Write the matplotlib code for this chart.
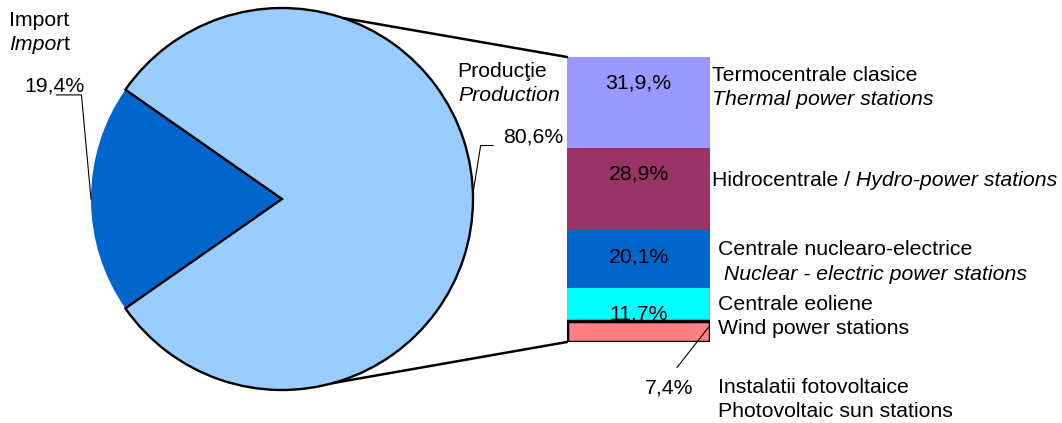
import numpy as np
import matplotlib
matplotlib.use("Agg")
import matplotlib.pyplot as plt
from matplotlib.patches import ConnectionPatch

# pie: import vs production
pie_names = ["Import", "Productie"]
pie_shares = [19.4, 80.6]
pie_colors = ["#0066CC", "#99CCFF"]

# bar: production by source, top to bottom
sources = ["Termocentrale clasice", "Hidrocentrale", "Centrale nuclearo-electrice",
           "Centrale eoliene", "Instalatii fotovoltaice"]
source_shares = [31.9, 28.9, 20.1, 11.7, 7.4]
source_labels = ["31,9,%", "28,9%", "20,1%", "11,7%", "7,4%"]
source_colors = ["#9999FF", "#993366", "#0066CC", "#00FFFF", "#FF8080"]

W, H = 1062, 423
plt.rcParams["font.family"] = ["Liberation Sans", "DejaVu Sans"]
plt.rcParams["font.size"] = 15.3

fig = plt.figure(figsize=(W / 100, H / 100), dpi=100)


def fx(x):
    return x / W


def fy(y):
    return 1 - y / H


def pct(v):
    return ("%.1f%%" % v).replace(".", ",")


# ---- pie
ax_pie = fig.add_axes([fx(91), fy(199 + 191), 382 / W, 382 / H])
start = 180 - pie_shares[0] * 3.6 / 2
wedges, _ = ax_pie.pie(pie_shares, colors=pie_colors, startangle=start, counterclock=True,
                       wedgeprops=dict(linewidth=1.7, edgecolor="black"))
wedges[0].set_linewidth(0)
ax_pie.set_xlim(-1, 1)
ax_pie.set_ylim(-1, 1)
ax_pie.set_aspect("equal")
ax_pie.axis("off")

# leader lines for pie labels (to the middle of each wedge)
mids = []
a = start
for s in pie_shares:
    mids.append(np.deg2rad(a + s * 3.6 / 2))
    a += s * 3.6
p0 = np.array([np.cos(mids[0]), np.sin(mids[0])])
ax_pie.plot([p0[0] - 0.18, p0[0] - 0.05, p0[0]], [p0[1] + 0.545, p0[1] + 0.545, p0[1]],
            color="black", lw=0.8, clip_on=False)
p1 = np.array([np.cos(mids[1]), np.sin(mids[1])])
ax_pie.plot([p1[0] + 0.105, p1[0] + 0.04, p1[0]], [p1[1] + 0.28, p1[1] + 0.28, p1[1] + 0.03],
            color="black", lw=0.8, clip_on=False)

# ---- stacked bar
ax_bar = fig.add_axes([fx(567), fy(342), 143 / W, 285 / H])
bottoms = np.cumsum([0] + source_shares[::-1][:-1])[::-1]
bars = []
for i in range(len(sources)):
    b = ax_bar.bar(0, source_shares[i], bottom=bottoms[i], width=1.0,
                   color=source_colors[i], linewidth=0)
    bars.append(b[0])
bars[-1].set_edgecolor("black")
bars[-1].set_linewidth(2.5)
ax_bar.set_xlim(-0.5, 0.5)
ax_bar.set_ylim(0, 100)
ax_bar.axis("off")

for i in range(len(sources) - 1):
    ax_bar.annotate(source_labels[i], xy=(0, bottoms[i] + source_shares[i]),
                    xytext=(0, -23), textcoords="offset points",
                    ha="center", va="baseline", annotation_clip=False)

ax_bar.annotate(source_labels[-1], xy=(0.49, bottoms[-1] + source_shares[-1] * 0.7),
                xytext=(693, H - 393), textcoords="figure pixels",
                ha="right", va="baseline",
                arrowprops=dict(arrowstyle="-", color="black", lw=0.8,
                                shrinkA=7, shrinkB=0, relpos=(0.5, 1)))

# ---- connecting lines pie -> bar
for ang, corner in [(71.4, (0, 1)), (-74.5, (0, 0))]:
    r = np.deg2rad(ang)
    con = ConnectionPatch(xyA=(np.cos(r), np.sin(r)), coordsA=ax_pie.transData,
                          xyB=corner, coordsB=ax_bar.transAxes,
                          color="black", lw=1.8)
    fig.add_artist(con)


# ---- texts
def mixed(x, y, first, second, style1="normal", style2="italic"):
    t = fig.text(fx(x), fy(y), first, style=style1, va="baseline")
    ax_pie.annotate(second, xy=(1, 0), xycoords=t, style=style2, va="bottom",
                    annotation_clip=False)


fig.text(fx(9), fy(26), "Import", va="baseline")
mixed(9, 50, "Impor", "t", "italic", "normal")
fig.text(fx(54), fy(92), pct(pie_shares[0]), ha="center", va="baseline")
fig.text(fx(457), fy(77), "Producţie", va="baseline")
fig.text(fx(458), fy(101), "Production", style="italic", va="baseline")
fig.text(fx(503), fy(142), pct(pie_shares[1]), va="baseline")

fig.text(fx(712), fy(81), "Termocentrale clasice", va="baseline")
fig.text(fx(712), fy(105), "Thermal power stations", style="italic", va="baseline")
mixed(712, 186, "Hidrocentrale /", " Hydro-power stations")
fig.text(fx(718), fy(255), "Centrale nuclearo-electrice", va="baseline")
fig.text(fx(718), fy(280), " Nuclear - electric power stations", style="italic", va="baseline")
fig.text(fx(718), fy(310), "Centrale eoliene", va="baseline")
fig.text(fx(718), fy(334), "Wind power stations", va="baseline")
fig.text(fx(718), fy(393), "Instalatii fotovoltaice", va="baseline")
fig.text(fx(718), fy(417), "Photovoltaic sun stations", va="baseline")

fig.savefig("out.png", dpi=100)
